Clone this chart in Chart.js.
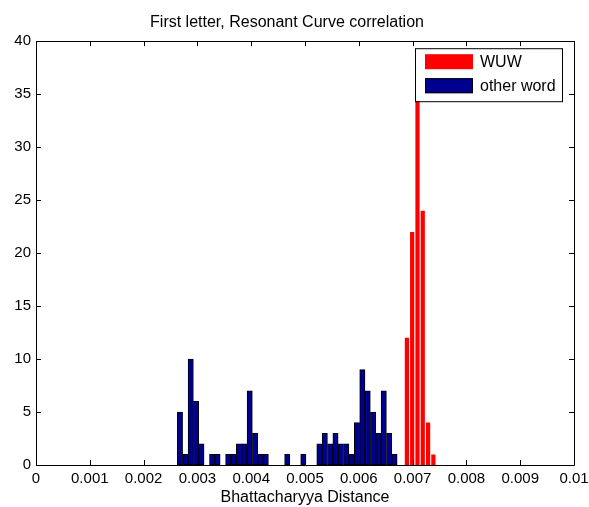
<!DOCTYPE html>
<html>
<head>
<meta charset="utf-8">
<script src="https://cdn.jsdelivr.net/npm/chart.js@4/dist/chart.umd.min.js"></script>
<style>
  html, body { margin: 0; padding: 0; background: #fff; }
  #wrap { width: 589px; height: 507px; }
</style>
</head>
<body>
<div id="wrap"><canvas id="histChart"></canvas></div>
<script>
// Histogram bins (bin centres) and counts
const otherWordBins = [0.002676, 0.002776, 0.002876, 0.002975, 0.003075, 0.003175, 0.003274, 0.003374,
  0.003474, 0.003573, 0.003673, 0.003773, 0.003873, 0.003972, 0.004072, 0.004172, 0.004271, 0.004371,
  0.004471, 0.004570, 0.004670, 0.004770, 0.004869, 0.004969, 0.005069, 0.005168, 0.005268, 0.005368,
  0.005468, 0.005567, 0.005667, 0.005767, 0.005866, 0.005966, 0.006066, 0.006165, 0.006265, 0.006365,
  0.006464, 0.006564, 0.006664];
const otherWordCounts = [5, 1, 10, 6, 2, 0, 1, 1, 0, 1, 1, 2, 2, 7, 3, 1, 1, 0, 0, 0, 1, 0, 0, 1, 0, 0,
  2, 3, 2, 3, 2, 2, 1, 4, 9, 7, 5, 3, 7, 3, 1];
const wuwBins = [0.006894, 0.006992, 0.007091, 0.007189, 0.007288, 0.007386];
const wuwCounts = [12, 22, 37, 24, 4, 1];

const xTickLabels = ['0', '0.001', '0.002', '0.003', '0.004', '0.005', '0.006', '0.007', '0.008', '0.009', '0.01'];
const yTickLabels = ['0', '5', '10', '15', '20', '25', '30', '35', '40'];

const FONT = 'Liberation Sans, Arial, Helvetica, sans-serif';

function toPoints(xs, ys) {
  return xs.map((x, i) => ({ x: x, y: ys[i] }));
}

// box around the axes, inward tick marks on all four sides, and the legend
const axesBox = {
  id: 'axesBox',
  afterDraw(chart) {
    const ctx = chart.ctx;
    const a = chart.chartArea;
    const xs = chart.scales.x;
    const ys = chart.scales.y;
    const len = 5;
    ctx.save();
    ctx.strokeStyle = '#000';
    ctx.lineWidth = 1;
    ctx.beginPath();
    ctx.rect(Math.round(a.left) + 0.5, Math.round(a.top) + 0.5,
      Math.round(a.right - a.left), Math.round(a.bottom - a.top));
    xs.ticks.forEach(t => {
      const px = Math.round(xs.getPixelForValue(t.value)) + 0.5;
      ctx.moveTo(px, a.bottom); ctx.lineTo(px, a.bottom - len);
      ctx.moveTo(px, a.top); ctx.lineTo(px, a.top + len);
    });
    ys.ticks.forEach(t => {
      const py = Math.round(ys.getPixelForValue(t.value)) + 0.5;
      ctx.moveTo(a.left, py); ctx.lineTo(a.left + len, py);
      ctx.moveTo(a.right, py); ctx.lineTo(a.right - len, py);
    });
    ctx.stroke();

    // legend
    const lx = a.right - 159, ly = a.top + 7, lw = 147, lh = 53;
    ctx.fillStyle = '#fff';
    ctx.fillRect(lx, ly, lw, lh);
    ctx.strokeRect(lx + 0.5, ly + 0.5, lw, lh);
    chart.data.datasets.forEach((ds, i) => {
      const sy = ly + 6 + i * 24;
      ctx.fillStyle = ds.backgroundColor;
      ctx.fillRect(lx + 10, sy, 48, 15);
      if (ds.borderWidth) {
        ctx.strokeStyle = ds.borderColor;
        ctx.strokeRect(lx + 10.5, sy + 0.5, 47, 14);
      }
      ctx.fillStyle = '#000';
      ctx.font = '16px ' + FONT;
      ctx.textBaseline = 'middle';
      ctx.fillText(ds.label, lx + 65, sy + 8);
    });
    ctx.restore();
  }
};

new Chart(document.getElementById('histChart'), {
  type: 'bar',
  data: {
    datasets: [{
      label: 'WUW',
      data: toPoints(wuwBins, wuwCounts),
      backgroundColor: '#ff0000',
      borderColor: '#ff0000',
      borderWidth: 0,
      barPercentage: 0.8,
      categoryPercentage: 1,
      grouped: false
    }, {
      label: 'other word',
      data: toPoints(otherWordBins, otherWordCounts),
      backgroundColor: '#00008f',
      borderColor: '#000000',
      borderWidth: 1,
      borderSkipped: false,
      barPercentage: 1,
      categoryPercentage: 1,
      grouped: false
    }]
  },
  options: {
    responsive: true,
    maintainAspectRatio: false,
    animation: false,
    layout: { padding: { left: 0, right: 15, top: 0, bottom: 0 } },
    plugins: {
      legend: { display: false },
      tooltip: { enabled: false },
      title: {
        display: true,
        text: 'First letter, Resonant Curve correlation',
        color: '#000',
        font: { family: FONT, size: 16, weight: 'normal' },
        padding: { top: 13, bottom: 9 }
      }
    },
    scales: {
      x: {
        type: 'linear',
        min: 0,
        max: 0.01,
        offset: false,
        grid: { display: false, drawTicks: false },
        border: { display: false },
        ticks: {
          stepSize: 0.001,
          color: '#000',
          padding: 5,
          maxRotation: 0,
          autoSkip: false,
          font: { family: FONT, size: 15 },
          callback: (v, i) => xTickLabels[i]
        },
        title: {
          display: true,
          text: 'Bhattacharyya Distance',
          color: '#000',
          font: { family: FONT, size: 16 },
          padding: { top: 0, bottom: 0 }
        },
        afterFit: s => { s.height = 42; s.paddingLeft = 0; s.paddingRight = 0; }
      },
      y: {
        min: 0,
        max: 40,
        grid: { display: false, drawTicks: false },
        border: { display: false },
        ticks: {
          stepSize: 5,
          color: '#000',
          padding: 5,
          font: { family: FONT, size: 15 },
          callback: (v, i) => yTickLabels[i]
        },
        afterFit: s => { s.width = 36; s.paddingTop = 0; s.paddingBottom = 0; }
      }
    }
  },
  plugins: [axesBox]
});
</script>
</body>
</html>
